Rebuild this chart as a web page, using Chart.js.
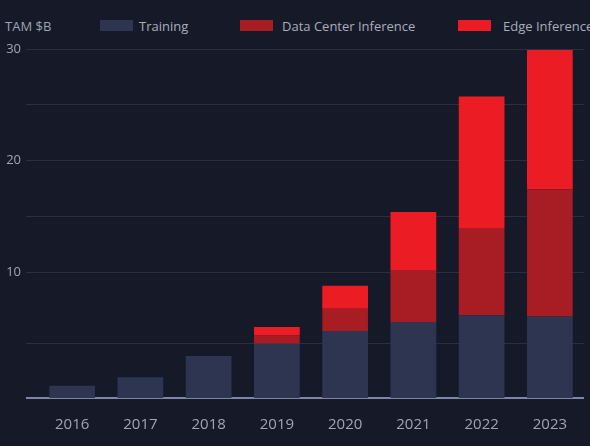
<!DOCTYPE html><html><head><meta charset="utf-8">
<script src="https://cdn.jsdelivr.net/npm/chart.js@4"></script>
<style>
html,body{margin:0;padding:0;background:#161a28;width:590px;height:446px;overflow:hidden;font-family:"Open Sans",sans-serif;}
#wrap{position:absolute;left:0;top:0;width:590px;height:446px;}
.lg{position:absolute;top:17px;color:#a9adbd;font-size:13px;white-space:nowrap;}
.bx{position:absolute;top:20px;width:33px;height:11px;}
</style></head><body>
<div class="lg" style="left:5px;color:#9ea3b5">TAM $B</div>
<div class="bx" style="left:100px;background:#2d3550"></div><div class="lg" style="left:139px">Training</div>
<div class="bx" style="left:240px;background:#a81c24"></div><div class="lg" style="left:282px">Data Center Inference</div>
<div class="bx" style="left:458px;background:#ec1c24"></div><div class="lg" style="left:503px">Edge Inference</div>
<div id="wrap"><canvas id="c" width="590" height="446"></canvas></div>
<script>
const categories=["2016","2017","2018","2019","2020","2021","2022","2023"];
const baseline=-1.25; // axis baseline in the reference's value units
const trainingValues=[1.1,1.85,3.75,4.85,6.0,6.8,7.4,7.3];
const dataCenterValues=[0,0,0,0.75,2.0,4.6,7.75,11.4];
const edgeValues=[0,0,0,0.75,2.05,5.25,11.85,12.45];
const yTickValues=[baseline,3.6,10,15,20,25,30];
const yTickLabels={10:"10",20:"20",30:"30"};

const trainRanges=trainingValues.map(v=>[baseline,baseline+v]);
const dcRanges=dataCenterValues.map((v,i)=>{const s=baseline+trainingValues[i];return v>0?[s,s+v]:null;});
const edgeRanges=edgeValues.map((v,i)=>{const s=baseline+trainingValues[i]+dataCenterValues[i];return v>0?[s,s+v]:null;});

new Chart(document.getElementById('c'),{
 type:'bar',
 data:{labels:categories,datasets:[
  {label:'Training',data:trainRanges,backgroundColor:'#2d3550'},
  {label:'Data Center Inference',data:dcRanges,backgroundColor:'#a81c24'},
  {label:'Edge Inference',data:edgeRanges,backgroundColor:'#ec1c24'}
 ]},
 options:{responsive:false,animation:false,
  layout:{padding:{top:49,right:6,left:0,bottom:0}},
  datasets:{bar:{categoryPercentage:0.67,barPercentage:1,borderWidth:0}},
  plugins:{legend:{display:false},tooltip:{enabled:false}},
  scales:{
   x:{stacked:true,grid:{display:false},border:{display:false},
      ticks:{color:'#a0a4b4',font:{family:'Open Sans',size:15},padding:10},
      afterFit:s=>{s.height=48;}},
   y:{stacked:false,min:baseline,max:30,
      afterBuildTicks:s=>{s.ticks=yTickValues.map(v=>({value:v}));},
      afterFit:s=>{s.width=38;},
      border:{display:false},
      grid:{drawTicks:true,tickLength:12,
        color:c=>c.tick&&c.tick.value===baseline?'#7e86a8':'#2b2f42',
        lineWidth:c=>c.tick&&c.tick.value===baseline?2:1},
      ticks:{color:'#a0a4b4',font:{family:'Open Sans',size:13},padding:5,
        callback:v=>yTickLabels[v]||""}}
  }}
});
</script></body></html>
